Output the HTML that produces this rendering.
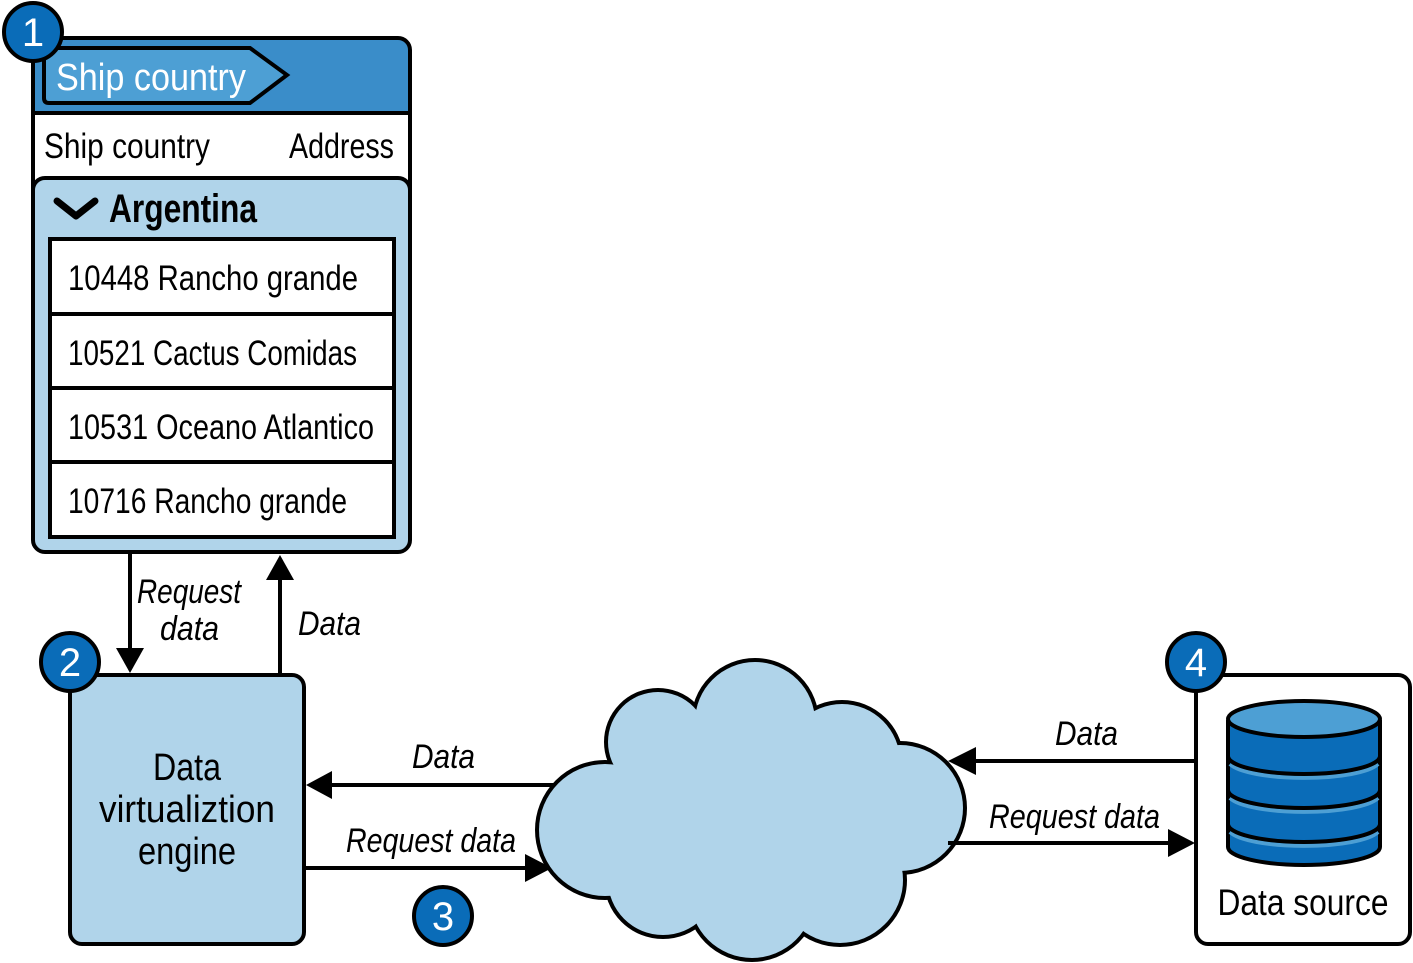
<!DOCTYPE html>
<html><head><meta charset="utf-8"><style>
html,body{margin:0;padding:0;background:#fff;}
svg{display:block;}
text{font-family:"Liberation Sans",sans-serif;}
</style></head><body>
<svg width="1413" height="963" viewBox="0 0 1413 963" xmlns="http://www.w3.org/2000/svg">
<defs>
<clipPath id="pc"><rect x="33" y="38" width="377" height="514" rx="12"/></clipPath>
</defs>
<!-- Panel -->
<g clip-path="url(#pc)">
<rect x="33" y="38" width="377" height="514" fill="#fff"/>
<rect x="33" y="38" width="377" height="75" fill="#3a8dc9"/>
<rect x="33" y="178" width="377" height="400" rx="12" fill="#b0d4ea" stroke="#000" stroke-width="4"/>
</g>
<rect x="33" y="38" width="377" height="514" rx="12" fill="none" stroke="#000" stroke-width="4"/>
<line x1="33" y1="113" x2="410" y2="113" stroke="#000" stroke-width="4"/>
<path d="M49 48 H250 L287 75 L250 103 H49 Q44 103 44 98 V53 Q44 48 49 48 Z" fill="#4d9fd4" stroke="#000" stroke-width="4"/>
<text x="56" y="90" font-size="38" fill="#fff" textLength="190" lengthAdjust="spacingAndGlyphs">Ship country</text>
<text x="44" y="158" font-size="35" textLength="166" lengthAdjust="spacingAndGlyphs">Ship country</text>
<text x="289" y="158" font-size="35" textLength="105" lengthAdjust="spacingAndGlyphs">Address</text>
<path d="M57 201 L76 216 L95 201" fill="none" stroke="#000" stroke-width="7" stroke-linecap="round" stroke-linejoin="round"/>
<text x="109" y="222" font-size="40" font-weight="bold" textLength="148" lengthAdjust="spacingAndGlyphs">Argentina</text>
<rect x="50" y="239" width="344" height="298" fill="#fff" stroke="#000" stroke-width="4"/>
<line x1="50" y1="314" x2="394" y2="314" stroke="#000" stroke-width="4"/>
<line x1="50" y1="388" x2="394" y2="388" stroke="#000" stroke-width="4"/>
<line x1="50" y1="462" x2="394" y2="462" stroke="#000" stroke-width="4"/>
<text x="68" y="290" font-size="35" textLength="290" lengthAdjust="spacingAndGlyphs">10448 Rancho grande</text>
<text x="68" y="365" font-size="35" textLength="289" lengthAdjust="spacingAndGlyphs">10521 Cactus Comidas</text>
<text x="68" y="439" font-size="35" textLength="306" lengthAdjust="spacingAndGlyphs">10531 Oceano Atlantico</text>
<text x="68" y="513" font-size="35" textLength="279" lengthAdjust="spacingAndGlyphs">10716 Rancho grande</text>

<!-- vertical arrows -->
<line x1="130" y1="552" x2="130" y2="652" stroke="#000" stroke-width="4"/>
<polygon points="116,648 144,648 130,673" fill="#000"/>
<line x1="280" y1="673" x2="280" y2="575" stroke="#000" stroke-width="4"/>
<polygon points="266,580 294,580 280,555" fill="#000"/>
<text x="137" y="603" font-size="34" font-style="italic" textLength="104" lengthAdjust="spacingAndGlyphs">Request</text>
<text x="160" y="640" font-size="34" font-style="italic" textLength="59" lengthAdjust="spacingAndGlyphs">data</text>
<text x="298" y="635" font-size="34" font-style="italic" textLength="63" lengthAdjust="spacingAndGlyphs">Data</text>

<!-- engine -->
<rect x="70" y="675" width="234" height="269" rx="12" fill="#b0d4ea" stroke="#000" stroke-width="4"/>
<text x="187" y="780" font-size="38" text-anchor="middle" textLength="68" lengthAdjust="spacingAndGlyphs">Data</text>
<text x="187" y="822" font-size="38" text-anchor="middle" textLength="176" lengthAdjust="spacingAndGlyphs">virtualiztion</text>
<text x="187" y="864" font-size="38" text-anchor="middle" textLength="98" lengthAdjust="spacingAndGlyphs">engine</text>

<!-- left horizontal arrows -->
<line x1="555" y1="785" x2="328" y2="785" stroke="#000" stroke-width="4"/>
<polygon points="332,771 332,799 306,785" fill="#000"/>
<text x="412" y="768" font-size="34" font-style="italic" textLength="63" lengthAdjust="spacingAndGlyphs">Data</text>
<line x1="306" y1="868" x2="530" y2="868" stroke="#000" stroke-width="4"/>
<polygon points="525,854 525,882 552,868" fill="#000"/>
<text x="346" y="852" font-size="34" font-style="italic" textLength="170" lengthAdjust="spacingAndGlyphs">Request data</text>

<!-- cloud -->
<g stroke="#000" stroke-width="8" fill="#000">
<circle cx="605" cy="830" r="66"/>
<circle cx="658" cy="742" r="50"/>
<circle cx="755" cy="722" r="60"/>
<circle cx="842" cy="762" r="58"/>
<circle cx="900" cy="808" r="63"/>
<circle cx="840" cy="880" r="63"/>
<circle cx="752" cy="896" r="62"/>
<circle cx="663" cy="880" r="55"/>
<circle cx="750" cy="820" r="110"/>
</g>
<g fill="#b0d4ea">
<circle cx="605" cy="830" r="66"/>
<circle cx="658" cy="742" r="50"/>
<circle cx="755" cy="722" r="60"/>
<circle cx="842" cy="762" r="58"/>
<circle cx="900" cy="808" r="63"/>
<circle cx="840" cy="880" r="63"/>
<circle cx="752" cy="896" r="62"/>
<circle cx="663" cy="880" r="55"/>
<circle cx="750" cy="820" r="110"/>
</g>

<!-- right arrows -->
<line x1="1196" y1="761" x2="972" y2="761" stroke="#000" stroke-width="4"/>
<polygon points="976,747 976,775 948,761" fill="#000"/>
<text x="1055" y="745" font-size="34" font-style="italic" textLength="63" lengthAdjust="spacingAndGlyphs">Data</text>
<line x1="948" y1="843" x2="1172" y2="843" stroke="#000" stroke-width="4"/>
<polygon points="1168,829 1168,857 1195,843" fill="#000"/>
<text x="989" y="828" font-size="34" font-style="italic" textLength="171" lengthAdjust="spacingAndGlyphs">Request data</text>

<!-- data source -->
<rect x="1196" y="675" width="214" height="269" rx="12" fill="#fff" stroke="#000" stroke-width="4"/>
<g stroke="#000" stroke-width="4">
<path d="M1228 722 V847 A76 18 0 0 0 1380 847 V722 Z" fill="#0a6cb8"/>
<ellipse cx="1304" cy="719" rx="76" ry="18" fill="#4d9fd4"/>
</g>
<g fill="none" stroke="#4d9fd4" stroke-width="4">
<path d="M1230 764 A76 18 0 0 0 1378 764"/>
<path d="M1230 798 A76 18 0 0 0 1378 798"/>
<path d="M1230 832 A76 18 0 0 0 1378 832"/>
</g>
<g fill="none" stroke="#000" stroke-width="4">
<path d="M1228 756 A76 18 0 0 0 1380 756"/>
<path d="M1228 790 A76 18 0 0 0 1380 790"/>
<path d="M1228 824 A76 18 0 0 0 1380 824"/>
</g>
<text x="1303" y="915" font-size="37" text-anchor="middle" textLength="171" lengthAdjust="spacingAndGlyphs">Data source</text>

<!-- badges -->
<g stroke="#000" stroke-width="4" fill="#0a6cb8">
<circle cx="33" cy="32" r="29"/>
<circle cx="70" cy="662" r="29"/>
<circle cx="443" cy="916" r="29"/>
<circle cx="1196" cy="662" r="29"/>
</g>
<g fill="#fff" font-size="40" text-anchor="middle">
<text x="33" y="46">1</text>
<text x="70" y="676">2</text>
<text x="443" y="930">3</text>
<text x="1196" y="676">4</text>
</g>
</svg>
</body></html>
